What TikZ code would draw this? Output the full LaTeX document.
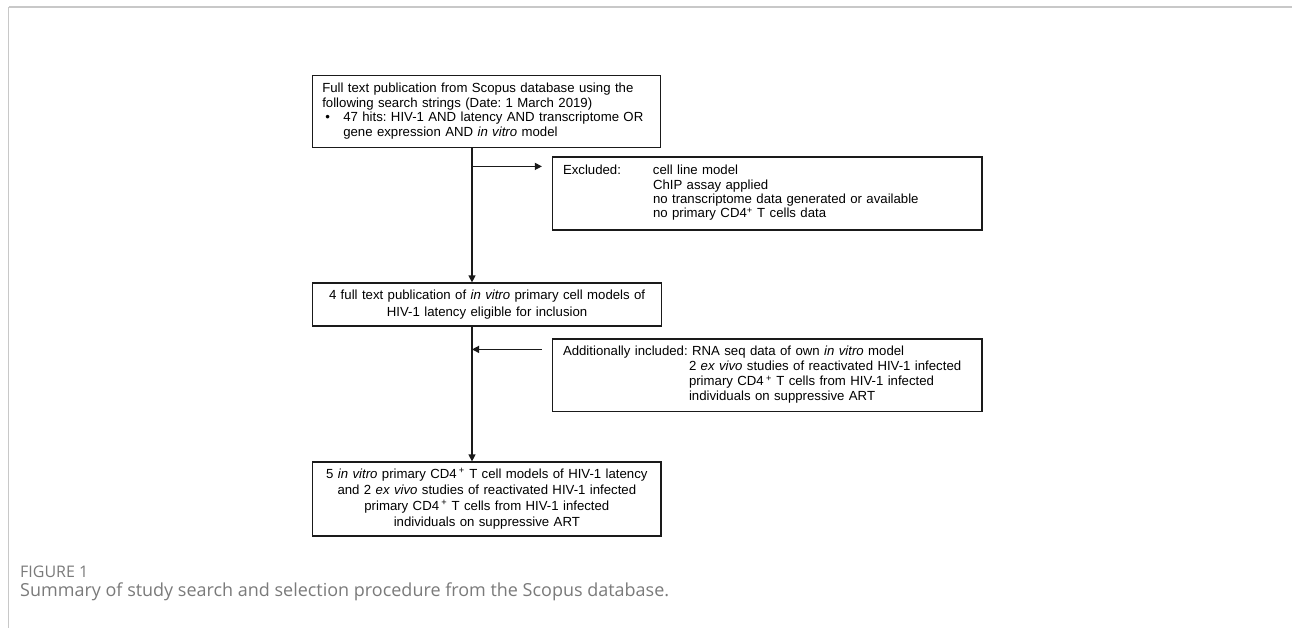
\documentclass[tikz,border=0pt]{standalone}
\usepackage{fontspec}
\usepackage{graphicx}
\setmainfont{Liberation Sans}
\newfontfamily\capfont{Open Sans}
\usetikzlibrary{arrows.meta,calc}
\definecolor{framegray}{HTML}{C8C8C8}
\definecolor{capgray}{HTML}{7A7A7A}
\definecolor{ink}{HTML}{1A1A1A}
\frenchspacing
\begin{document}
\begin{tikzpicture}[x=1pt,y=-1pt,
  box/.style={draw=ink, line width=1.2pt, inner ysep=0pt},
  arr/.style={draw=ink, line width=1.2pt, -{Triangle[length=7pt,width=7pt]}},
  capt/.style={anchor=west, inner sep=0pt, text=capgray}]
\useasboundingbox (0,0) rectangle (1292,628);
% frame
\draw[framegray, line width=2pt] (8.5,7.5) -- (1292,7.5);
\draw[framegray, line width=1.2pt] (8.5,7.5) -- (8.5,628);

\coordinate (vx) at (472,0);

\node[box, text width=329pt, inner xsep=9.5pt, minimum height=72.5pt, align=left,
      font=\fontsize{13.2}{14.6}\selectfont] (b1) at (486.8,111.5)
 {\begin{tabular}{@{}l@{}}
  Full text publication from Scopus database using the\\
  following search strings (Date: 1 March 2019)\\
  \makebox[21pt][l]{\hspace{3pt}•}47 hits: HIV-1 AND latency AND transcriptome OR\\
  \hspace*{21pt}gene expression AND \textit{in vitro} model
  \end{tabular}};

\node[box, text width=408.5pt, inner xsep=10.5pt, minimum height=73pt, align=left,
      font=\fontsize{13.2}{14.4}\selectfont] (excl) at (767.25,193.5)
 {\begin{tabular}{@{}p{90pt}@{}l@{}}
  Excluded: & cell line model\\
   & ChIP assay applied\\
   & no transcriptome data generated or available\\
   & no primary CD4\textsuperscript{+} T cells data
  \end{tabular}};

\node[box, text width=330pt, inner xsep=9.4pt, minimum height=43pt, align=center,
      font=\fontsize{13.2}{16.5}\selectfont] (b2) at (487.1,304.5)
 {\begin{tabular}{@{}c@{}}
  4 full text publication of \textit{in vitro} primary cell models of\\
  HIV-1 latency eligible for inclusion
  \end{tabular}};

\node[box, text width=408.5pt, inner xsep=10.5pt, minimum height=72.5pt, align=left,
      font=\fontsize{13.2}{15}\selectfont] (addl) at (767.25,375.25)
 {\begin{tabular}{@{}l@{}}
  Additionally included: RNA seq data of own \textit{in vitro} model\\
  \hspace*{126pt}2 \textit{ex vivo} studies of reactivated HIV-1 infected\\
  \hspace*{126pt}primary CD4\,\textsuperscript{+} T cells from HIV-1 infected\\
  \hspace*{126pt}individuals on suppressive ART
  \end{tabular}};

\node[box, text width=330pt, inner xsep=9.15pt, minimum height=74pt, align=center,
      font=\fontsize{13.2}{16}\selectfont] (b3) at (486.85,499)
 {\begin{tabular}{@{}c@{}}
  5 \textit{in vitro} primary CD4\,\textsuperscript{+} T cell models of HIV-1 latency\\
  and 2 \textit{ex vivo} studies of reactivated HIV-1 infected\\
  primary CD4\,\textsuperscript{+} T cells from HIV-1 infected\\
  individuals on suppressive ART
  \end{tabular}};

% connectors
\coordinate (j1) at ($(excl.north -| vx)+(0,10)$);
\coordinate (j2) at ($(addl.north -| vx)+(0,11)$);
\draw[arr] (b1.south -| vx) -- (b2.north -| vx);
\draw[arr, shorten >=10pt] (j1) -- (j1 -| excl.west);
\draw[arr, shorten <=10pt] (j2 -| addl.west) -- (j2);
\draw[arr] (b2.south -| vx) -- (b3.north -| vx);

% caption
\node[capt] (fig) at (20,572) {\resizebox{68pt}{!}{\capfont\fontsize{13}{15}\selectfont FIGURE 1}};
\node[capt] (cap) at (20,592) {\resizebox{649pt}{!}{\capfont\fontsize{16}{18}\selectfont Summary of study search and selection procedure from the Scopus database.}};
\end{tikzpicture}
\end{document}
